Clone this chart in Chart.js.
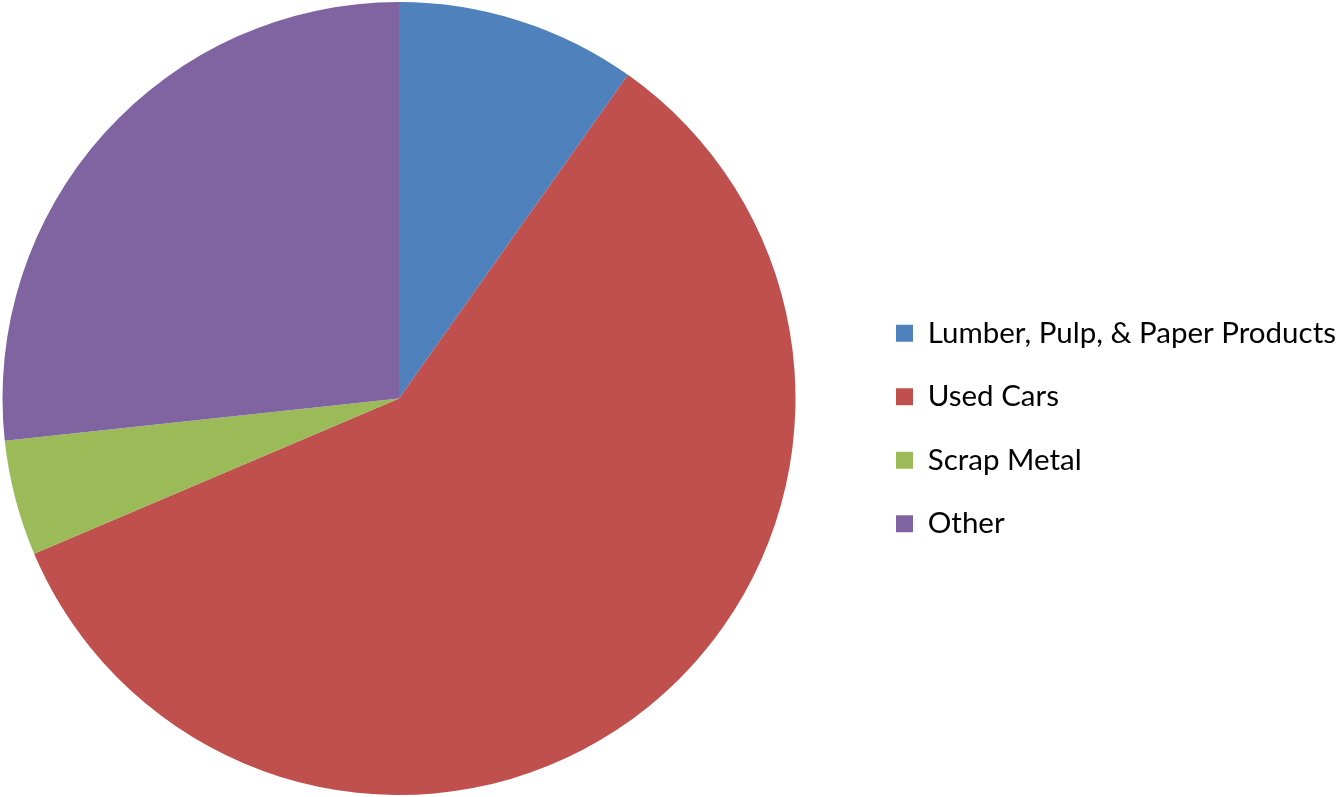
<!DOCTYPE html>
<html>
<head>
<meta charset="utf-8">
<script src="https://cdn.jsdelivr.net/npm/chart.js@4/dist/chart.umd.min.js"></script>
<style>
  html, body { margin: 0; padding: 0; background: #ffffff; }
  canvas { display: block; }
</style>
</head>
<body>
<canvas id="shareChart" width="1337" height="797"></canvas>
<script>
// Categories and their share (percent), clockwise from 12 o'clock
const categories = ['Lumber, Pulp, & Paper Products', 'Used Cars', 'Scrap Metal', 'Other'];
const shares = [9.8, 58.8, 4.7, 26.7];
const sliceColors = ['#4F81BD', '#C0504D', '#9BBB59', '#8064A2'];

// extra white space between the pie and the legend
const legendGap = 64;

const pieGap = {
    id: 'pieGap',
    afterLayout(chart) {
        const area = chart.chartArea;
        area.right -= legendGap;
        area.width = area.right - area.left;
    },
};

const ctx = document.getElementById('shareChart').getContext('2d');

new Chart(ctx, {
    type: 'pie',
    data: {
        labels: categories,
        datasets: [
            {
                data: shares,
                backgroundColor: sliceColors,
                borderWidth: 0,
                hoverOffset: 0,
            },
        ],
    },
    options: {
        responsive: false,
        animation: false,
        devicePixelRatio: 1,
        layout: {
            padding: { left: 0, top: 2, bottom: 2, right: 0 },
        },
        plugins: {
            tooltip: { enabled: false },
            legend: {
                position: 'right',
                maxWidth: 475,
                // empty title only used as a spacer above the items
                title: {
                    display: true,
                    text: '',
                    font: { size: 10, lineHeight: 1 },
                    padding: { top: 50, bottom: 0 },
                },
                labels: {
                    boxWidth: 17,
                    boxHeight: 17,
                    padding: 34,
                    color: '#000000',
                    font: { family: 'Lato', size: 29.5 },
                },
            },
        },
    },
    plugins: [pieGap],
});
</script>
</body>
</html>
